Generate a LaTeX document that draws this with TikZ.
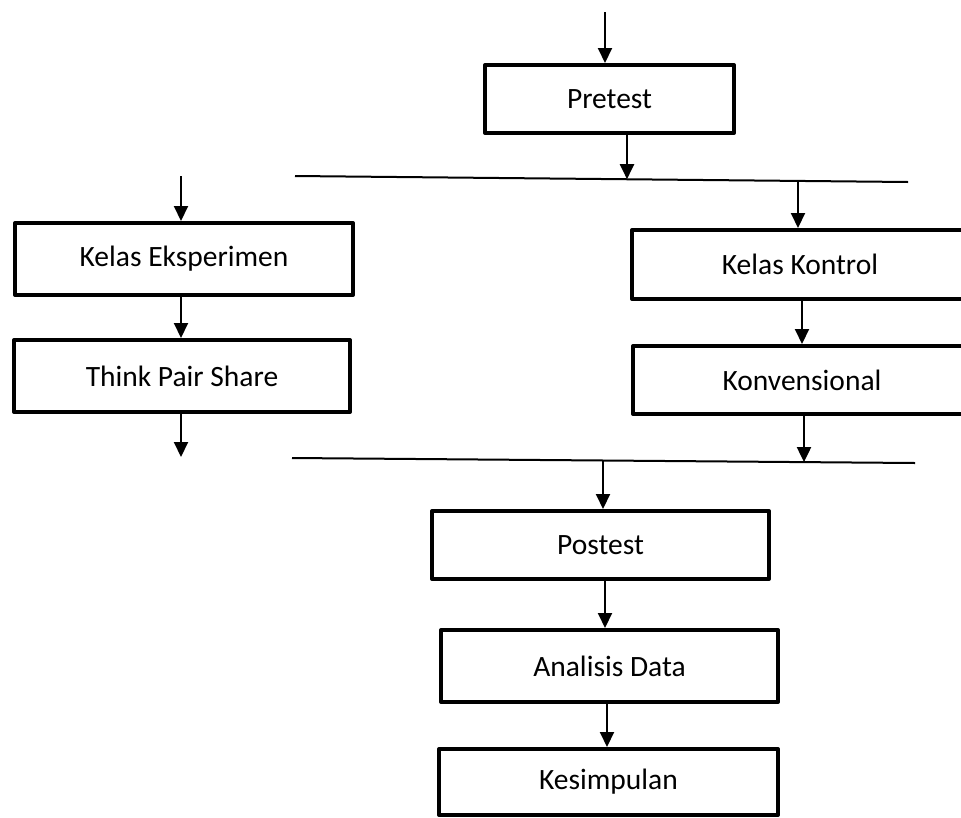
\documentclass[tikz,border=0pt]{standalone}
\usepackage{fontspec}
\setmainfont{Carlito}
\usetikzlibrary{arrows.meta}
\begin{document}
\begin{tikzpicture}[x=1pt,y=-1pt,
  box/.style={draw, line width=4pt, rectangle, inner sep=0pt, line join=round,
    font=\fontsize{29.5}{35}\selectfont},
  arr/.style={line width=2pt, -{Triangle[width=14pt,length=15pt]}},
  hline/.style={line width=2pt}]
\useasboundingbox (0,0) rectangle (961,817);
\clip (0,0) rectangle (961,817);

% boxes
\node[box, minimum width=249pt, minimum height=68pt] (pre) at (609.5,99) {Pretest};
\node[box, minimum width=338pt, minimum height=72pt] (ke) at (184,259) {Kelas Eksperimen};
\node[box, minimum width=336pt, minimum height=72pt] (tps) at (182,376) {Think Pair Share};
\node[box, minimum width=336pt, minimum height=69pt] (kk) at (800,264.5) {Kelas Kontrol};
\node[box, minimum width=338pt, minimum height=68pt] (kv) at (802,380) {Konvensional};
\node[box, minimum width=337pt, minimum height=68pt] (post) at (600.5,545) {Postest};
\node[box, minimum width=337pt, minimum height=72pt] (ad) at (609.5,666) {Analisis Data};
\node[box, minimum width=339pt, minimum height=66pt] (kes) at (608.5,782) {Kesimpulan};

% horizontal lines
\coordinate (l1a) at (295,176);
\coordinate (l1b) at (908,182);
\coordinate (l2a) at (292,458);
\coordinate (l2b) at (915,463);
\draw[hline] (l1a) -- (l1b);
\draw[hline] (l2a) -- (l2b);

% free ends and points on lines
\coordinate (top) at (605,12);
\coordinate (p1) at (627,179.2);
\coordinate (p2) at (798,180.9);
\coordinate (lft) at (181,176);
\coordinate (lbot) at (181,457);
\coordinate (p3) at (804,462.1);
\coordinate (p4) at (603,460.5);

% arrows
\draw[arr] (top) -- (top |- pre.north);
\draw[arr] (p1 |- pre.south) -- (p1);
\draw[arr] (lft) -- (lft |- ke.north);
\draw[arr] (lft |- ke.south) -- (lft |- tps.north);
\draw[arr] (lft |- tps.south) -- (lbot);
\draw[arr] (p2) -- (p2 |- kk.north);
\draw[arr] (802,0 |- kk.south) -- (802,0 |- kv.north);
\draw[arr] (p3 |- kv.south) -- (p3);
\draw[arr] (p4) -- (p4 |- post.north);
\draw[arr] (605,0 |- post.south) -- (605,0 |- ad.north);
\draw[arr] (607,0 |- ad.south) -- (607,0 |- kes.north);
\end{tikzpicture}
\end{document}
